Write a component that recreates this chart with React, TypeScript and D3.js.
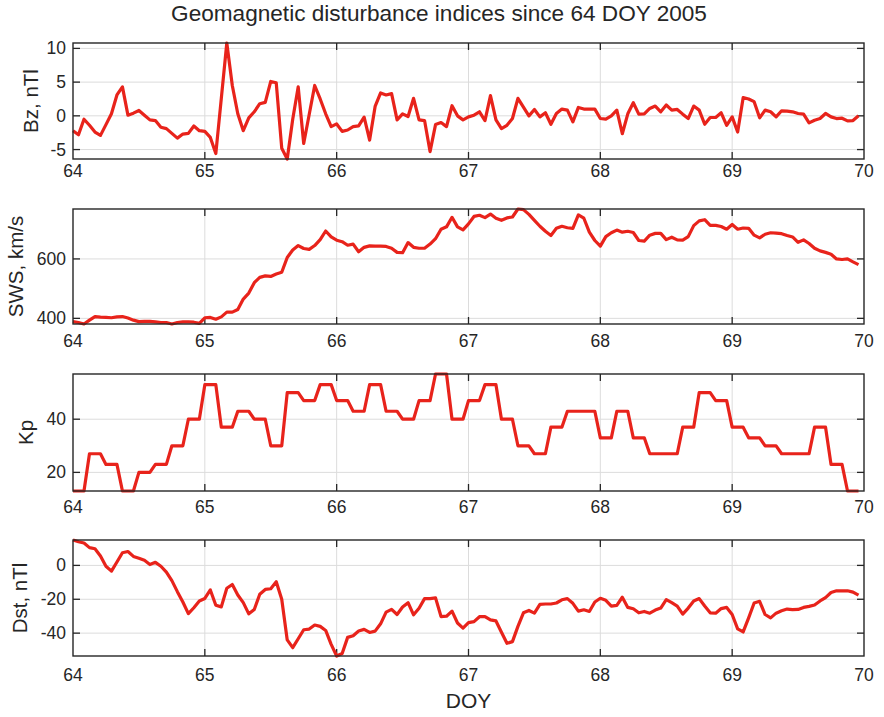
import { useEffect, useRef } from "react";
import * as d3 from "d3";

// hourly values, DOY 64.00 .. 69.96
const bz = [
    -2.2, -2.8, -0.5, -1.4, -2.4, -2.9, -1.3, 0.3, 3.1, 4.3, 0.1, 0.4, 0.8, 0.1, -0.6, -0.7, -1.7, -1.9, -2.6, -3.3, -2.7, -2.6, -1.5, -2.2,
    -2.3, -3.2, -5.6, 2.6, 10.8, 4.5, 0.3, -2.2, -0.3, 0.6, 1.8, 2.0, 5.1, 4.9, -4.8, -6.4, -0.5, 4.3, -4.1, 0.2, 4.5, 2.5, 0.3, -1.6,
    -1.2, -2.3, -2.1, -1.6, -1.5, -0.2, -3.6, 1.4, 3.4, 3.1, 3.3, -0.6, 0.3, -0.1, 2.6, -0.6, -0.7, -5.3, -1.3, -1.0, -1.6, 1.5, 0.0, -0.6,
    -0.15, 0.1, 0.6, -0.7, 3.0, -0.6, -1.9, -1.4, -0.4, 2.6, 1.3, 0.0, 0.95, -0.15, 0.45, -1.25, 0.35, 1.0, 0.85, -0.9, 1.25, 1.0, 1.0, 1.0,
    -0.4, -0.5, 0.0, 0.85, -2.65, 0.3, 1.95, 0.25, 0.3, 1.1, 1.45, 0.6, 1.6, 0.85, 0.95, 0.25, -0.4, 1.45, 0.85, -1.25, -0.25, -0.25, 0.45, -1.4,
    -0.15, -2.4, 2.7, 2.5, 2.1, -0.3, 0.85, 0.6, -0.15, 0.75, 0.7, 0.6, 0.35, 0.25, -1.05, -0.65, -0.4, 0.35, -0.15, -0.4, -0.35, -0.75, -0.7, 0.0,
];

const sws = [
    389, 386, 381, 394, 406, 404, 403, 402, 405, 406, 401, 394, 389, 390, 390, 388, 386, 386, 381, 386, 388, 388, 387, 383,
    402, 403, 397, 405, 421, 421, 430, 465, 485, 520, 538, 543, 541, 549, 555, 605, 630, 645, 635, 632, 645, 665, 694, 674,
    663, 658, 646, 650, 624, 639, 644, 643, 643, 642, 636, 622, 621, 655, 639, 636, 636, 650, 668, 700, 708, 740, 708, 698,
    718, 743, 747, 739, 751, 737, 730, 738, 741, 768, 766, 750, 730, 710, 693, 679, 703, 710, 705, 703, 748, 737, 690, 662,
    643, 675, 688, 697, 690, 693, 689, 662, 660, 680, 686, 686, 665, 673, 664, 663, 675, 712, 728, 732, 713, 713, 709, 700,
    716, 700, 704, 703, 680, 671, 683, 688, 687, 685, 679, 674, 656, 664, 652, 636, 627, 622, 616, 600, 598, 600, 590, 581,
];

// 3-hour Kp (x10)
const kp3h = [
    13, 27, 23, 13, 20, 23, 30, 40,
    53, 37, 43, 40, 30, 50, 47, 53,
    47, 43, 53, 43, 40, 47, 57, 40,
    47, 53, 40, 30, 27, 37, 43, 43,
    33, 43, 33, 27, 27, 37, 50, 47,
    37, 33, 30, 27, 27, 37, 23, 13,
];

const dst = [
    15, 14, 13.2, 10.5, 9.8, 5.5, -0.5, -3.4, 2, 7.5, 8.2, 5.3, 4.2, 3.0, 0.5, 1.8, -0.5, -4, -9, -15.5, -21.6, -28.5, -25, -21,
    -19.5, -14.5, -23.5, -24.5, -13.5, -11.3, -17.5, -22, -28.6, -26, -17, -14.2, -13.8, -9.6, -20, -44, -48.6, -43.3, -38, -37.6, -35.2, -36, -38.4, -46.6,
    -53.5, -52, -42.5, -41.5, -38.7, -37.8, -39.6, -38.8, -34.5, -27.6, -26, -29, -24.6, -22, -29.2, -25.3, -19.6, -19.6, -19.2, -30.2, -30, -27, -34, -37,
    -33.8, -33.2, -30.3, -30.2, -32.2, -32.8, -39.5, -46, -45, -36, -28, -26.6, -28.2, -23, -22.8, -22.8, -22.2, -20.3, -19.6, -22.4, -27, -26.2, -27.2, -21.6,
    -19.4, -20.6, -24, -23.6, -18.8, -24.8, -25.6, -28, -27.2, -28.2, -26.4, -25.2, -20.2, -22, -24, -28.8, -25.2, -21, -19.6, -24, -28, -28.2, -25.5, -24.8,
    -29, -37.5, -39.3, -31, -22.2, -21.2, -29, -31, -28.2, -26.8, -25.8, -26.1, -26, -24.8, -24.2, -23.4, -21, -19, -16, -15, -15, -15, -15.8, -17.6,
];

const xTicks = [64, 65, 66, 67, 68, 69, 70];
const bzTicks = [-5, 0, 5, 10];
const swsTicks = [400, 600];
const kpTicks = [20, 40];
const dstTicks = [-40, -20, 0];

const title = "Geomagnetic disturbance indices since 64 DOY 2005";

export default function App() {
    const svgRef = useRef<SVGSVGElement>(null);

    useEffect(() => {
        if (!svgRef.current) return;
        const svg = d3.select(svgRef.current);
        svg.selectAll("*").remove();

        const left = 73, right = 864;
        const font = "'Liberation Sans', Arial, sans-serif";
        const ink = "#262626";

        // Kp holds for its 3-hour interval -> hourly samples
        const kp = kp3h.flatMap(v => [v, v, v]);
        const doy = d3.range(bz.length).map(i => 64 + i / 24);

        const x = d3.scaleLinear().domain([64, 70]).range([left, right]);

        const panels = [
            { values: bz, ticks: bzTicks, label: "Bz, nTl", top: 43, bottom: 159, labelX: 38, tickDy: 18 },
            { values: sws, ticks: swsTicks, label: "SWS, km/s", top: 209, bottom: 324, labelX: 23, tickDy: 23 },
            { values: kp, ticks: kpTicks, label: "Kp", top: 374, bottom: 491, labelX: 33, tickDy: 22 },
            { values: dst, ticks: dstTicks, label: "Dst, nTl", top: 540, bottom: 656, labelX: 27, tickDy: 25 },
        ];

        svg.append("text")
            .attr("x", 439)
            .attr("y", 21)
            .attr("text-anchor", "middle")
            .style("font-family", font)
            .style("font-size", "22.6px")
            .style("fill", ink)
            .text(title);

        panels.forEach(p => {
            const [lo, hi] = d3.extent(p.values) as [number, number];
            const y = d3.scaleLinear().domain([lo, hi]).range([p.bottom, p.top]);
            const g = svg.append("g");

            // grid
            g.selectAll(".vg")
                .data(xTicks.slice(1, -1))
                .enter()
                .append("line")
                .attr("x1", d => x(d)).attr("x2", d => x(d))
                .attr("y1", p.top).attr("y2", p.bottom)
                .style("stroke", "#dcdcdc").style("stroke-width", 1);

            g.selectAll(".hg")
                .data(p.ticks)
                .enter()
                .append("line")
                .attr("x1", left).attr("x2", right)
                .attr("y1", d => y(d)).attr("y2", d => y(d))
                .style("stroke", "#dcdcdc").style("stroke-width", 1);

            // inward ticks on all sides
            const tl = 7;
            xTicks.slice(1, -1).forEach(t => {
                g.append("line").attr("x1", x(t)).attr("x2", x(t)).attr("y1", p.bottom).attr("y2", p.bottom - tl)
                    .style("stroke", ink).style("stroke-width", 1.3);
                g.append("line").attr("x1", x(t)).attr("x2", x(t)).attr("y1", p.top).attr("y2", p.top + tl)
                    .style("stroke", ink).style("stroke-width", 1.3);
            });
            p.ticks.forEach(t => {
                g.append("line").attr("x1", left).attr("x2", left + tl).attr("y1", y(t)).attr("y2", y(t))
                    .style("stroke", ink).style("stroke-width", 1.3);
                g.append("line").attr("x1", right).attr("x2", right - tl).attr("y1", y(t)).attr("y2", y(t))
                    .style("stroke", ink).style("stroke-width", 1.3);
            });

            // data line
            const line = d3.line<number>()
                .x((_, i) => x(doy[i]))
                .y(d => y(d));

            g.append("path")
                .datum(p.values)
                .attr("d", line)
                .style("fill", "none")
                .style("stroke", "#e8231b")
                .style("stroke-width", 3.2)
                .style("stroke-linejoin", "round");

            // box
            g.append("rect")
                .attr("x", left).attr("y", p.top)
                .attr("width", right - left).attr("height", p.bottom - p.top)
                .style("fill", "none")
                .style("stroke", ink)
                .style("stroke-width", 1.4);

            // tick labels
            g.selectAll(".xl")
                .data(xTicks)
                .enter()
                .append("text")
                .attr("x", d => x(d))
                .attr("y", p.bottom + p.tickDy)
                .attr("text-anchor", "middle")
                .style("font-family", font)
                .style("font-size", "17.5px")
                .style("fill", ink)
                .text(d => d);

            g.selectAll(".yl")
                .data(p.ticks)
                .enter()
                .append("text")
                .attr("x", 66)
                .attr("y", d => y(d) + 6)
                .attr("text-anchor", "end")
                .style("font-family", font)
                .style("font-size", "17.5px")
                .style("fill", ink)
                .text(d => d);

            g.append("text")
                .attr("transform", `translate(${p.labelX},${(p.top + p.bottom) / 2}) rotate(-90)`)
                .attr("text-anchor", "middle")
                .style("font-family", font)
                .style("font-size", "20.5px")
                .style("fill", ink)
                .text(p.label);
        });

        svg.append("text")
            .attr("x", (left + right) / 2)
            .attr("y", 708)
            .attr("text-anchor", "middle")
            .style("font-family", font)
            .style("font-size", "21px")
            .style("fill", ink)
            .text("DOY");
    }, []);

    return (
        <svg
            ref={svgRef}
            width={884}
            height={717}
            style={{ position: "absolute", left: 0, top: 0, background: "#fff" }}
        />
    );
}
